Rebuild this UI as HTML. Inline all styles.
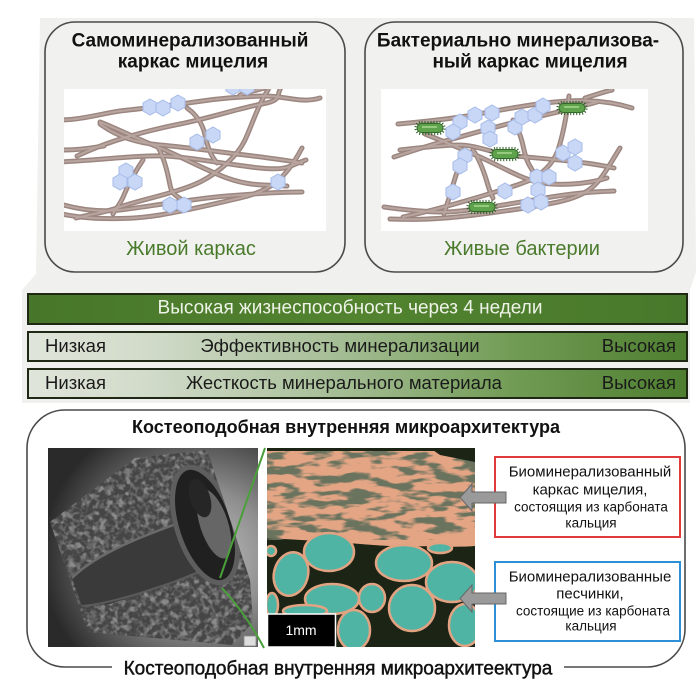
<!DOCTYPE html>
<html><head><meta charset="utf-8">
<style>
html,body{margin:0;padding:0;}
body{width:700px;height:700px;position:relative;background:#fff;overflow:hidden;font-family:"Liberation Sans",sans-serif;color:#111;}
.c{position:absolute;white-space:nowrap;transform:translate(-50%,-50%);line-height:1;}
.l{position:absolute;white-space:nowrap;transform:translateY(-50%);line-height:1;}
.r{position:absolute;white-space:nowrap;transform:translate(-100%,-50%);line-height:1;}
.tt{font-weight:bold;font-size:19px;color:#111;}
.gr{font-size:20px;color:#4a7b2c;}
.bt{font-size:18.5px;color:#1a1a1a;}
</style></head><body>
<svg width="700" height="700" viewBox="0 0 700 700" style="position:absolute;left:0;top:0" xmlns="http://www.w3.org/2000/svg">
<defs>
  <linearGradient id="g1" x1="0" y1="0" x2="1" y2="0">
    <stop offset="0" stop-color="#47762a"/><stop offset="0.5" stop-color="#52832f"/><stop offset="1" stop-color="#48782b"/>
  </linearGradient>
  <linearGradient id="g2" x1="0" y1="0" x2="1" y2="0">
    <stop offset="0" stop-color="#dfe5da"/><stop offset="0.18" stop-color="#d2dbca"/><stop offset="0.45" stop-color="#a9c09a"/><stop offset="0.75" stop-color="#6f9a52"/><stop offset="1" stop-color="#4e7e30"/>
  </linearGradient>
  <radialGradient id="ctbg" cx="0.72" cy="0.55" r="0.75">
    <stop offset="0" stop-color="#c4c4c4"/><stop offset="0.45" stop-color="#8e8e8e"/><stop offset="1" stop-color="#2a2a2a"/>
  </radialGradient>
  <clipPath id="cube"><polygon points="135,458 207,450 250,580 253,622 232,645 88,632 50,522"/></clipPath>
  <clipPath id="micro"><rect x="267" y="448" width="208" height="199"/></clipPath>
  <clipPath id="il1"><rect x="64" y="89" width="262" height="142"/></clipPath>
  <clipPath id="il2"><rect x="381" y="89" width="267" height="142"/></clipPath>
  <filter id="grain" filterUnits="userSpaceOnUse" x="48" y="448" width="210" height="200">
    <feTurbulence type="fractalNoise" baseFrequency="0.16" numOctaves="2" seed="7"/>
    <feColorMatrix type="matrix" values="0 0 0 0 0.40  0 0 0 0 0.40  0 0 0 0 0.40  4 0 0 0 -1.9"/>
  </filter>
  <filter id="grain2" filterUnits="userSpaceOnUse" x="48" y="448" width="210" height="200">
    <feTurbulence type="fractalNoise" baseFrequency="0.2" numOctaves="2" seed="19"/>
    <feColorMatrix type="matrix" values="0 0 0 0 0.18  0 0 0 0 0.18  0 0 0 0 0.18  4 0 0 0 -1.9"/>
  </filter>
  <filter id="mott" filterUnits="userSpaceOnUse" x="267" y="448" width="208" height="92">
    <feTurbulence type="fractalNoise" baseFrequency="0.035 0.12" numOctaves="3" seed="4"/>
    <feColorMatrix type="matrix" values="0 0 0 0 0.14  0 0 0 0 0.17  0 0 0 0 0.11  7 0 0 0 -3.3"/>
  </filter>
  <polygon id="hx" points="0,-8 7,-4 7,4 0,8 -7,4 -7,-4" fill="#c8d7f5" stroke="#a6bbea" stroke-width="1"/>
  <g id="bac">
    <rect x="-14.5" y="-6" width="29" height="12" rx="6" fill="none" stroke="#2b5a22" stroke-width="2.2" stroke-dasharray="1 2"/>
    <rect x="-13" y="-4.5" width="26" height="9" rx="4.5" fill="#5ea34c" stroke="#2f6a28" stroke-width="1"/>
    <path d="M-8,-1 L7,-1" stroke="#a8d890" stroke-width="1.5"/>
  </g>
  <g id="s1" fill="none" stroke-linecap="round">
    <path d="M60,120 C80,120 100,114 120,111 C145,108 170,106 195,102 S240,97 262,96 S300,104 320,98"/>
    <path d="M77,156 C110,140 150,130 180,124 S240,108 262,104 S275,95 282,86"/>
    <path d="M100,124 C115,135 135,143 160,145 S220,152 245,155 S285,160 302,163"/>
    <path d="M60,162 C100,160 140,155 165,156 S230,165 260,168 S290,165 306,160"/>
    <path d="M268,90 C258,105 252,125 245,140 S220,172 200,182 S140,200 120,207 S95,213 76,218"/>
    <path d="M60,204 C80,210 100,212 120,210 S190,199 227,196 S280,192 302,192"/>
    <path d="M62,214 C90,220 130,220 160,215 S210,205 240,198 S285,180 302,148"/>
    <path d="M187,108 C197,115 203,125 205,135 S210,155 217,163"/>
    <path d="M158,147 C165,160 168,175 170,185 S176,195 182,200"/>
    <path d="M143,160 C135,172 128,185 124,195 S116,208 113,214"/>
    <path d="M100,122 C120,130 140,140 160,148 S205,170 227,178 S265,185 287,186"/>
    <path d="M62,150 C80,150 90,148 104,146"/>
    <path d="M240,95 C250,92 262,88 275,86"/>
  </g>
  <g id="s2" fill="none" stroke-linecap="round">
    <path d="M398,124 C420,122 440,120 460,117 S520,106 545,103 S600,98 632,108"/>
    <path d="M394,157 C415,150 430,145 445,141 S495,127 515,122 S570,110 597,102"/>
    <path d="M400,150 C420,148 440,145 458,145 S490,152 508,155 S580,160 614,168"/>
    <path d="M425,134 C440,140 460,148 480,157 S520,178 537,182 S585,185 607,178"/>
    <path d="M569,96 C566,120 563,135 558,150 S540,175 530,180 S470,200 440,208 S415,214 403,217"/>
    <path d="M384,207 C405,210 425,212 445,212 S515,203 545,198 S590,192 614,191"/>
    <path d="M390,219 C415,220 430,219 445,218 S520,210 558,202 S600,180 620,148"/>
    <path d="M513,120 C518,128 522,140 524,150 S530,168 536,175"/>
    <path d="M463,156 C457,170 453,185 450,195 S446,207 444,214"/>
    <path d="M473,150 C480,160 484,172 487,182 S490,192 493,198"/>
    <path d="M585,98 C595,95 603,92 612,90"/>
  </g>
</defs>

<!-- light gray panel -->
<polygon points="40,18 694,18 696,272 690,290 690,403 22,403 22,290 36,274" fill="#f0f0ee"/>

<!-- top boxes -->
<rect x="45" y="22" width="300" height="250" rx="30" fill="#f1f1ef" stroke="#4a4a4a" stroke-width="1.6"/>
<rect x="365" y="22" width="318" height="250" rx="30" fill="#f1f1ef" stroke="#4a4a4a" stroke-width="1.6"/>
<rect x="64" y="89" width="262" height="142" fill="#ffffff"/>
<rect x="381" y="89" width="267" height="142" fill="#ffffff"/>

<!-- illustration 1 -->
<g clip-path="url(#il1)">
<use href="#s1" stroke="#9c8680" stroke-width="5"/>
<use href="#s1" stroke="#b9a59f" stroke-width="2"/>
<use href="#hx" x="150" y="107"/><use href="#hx" x="163" y="108"/><use href="#hx" x="178" y="103"/>
<use href="#hx" x="197" y="142"/><use href="#hx" x="213" y="135"/>
<use href="#hx" x="126" y="171"/><use href="#hx" x="120" y="182"/><use href="#hx" x="135" y="182"/>
<use href="#hx" x="278" y="182"/>
<use href="#hx" x="170" y="205"/><use href="#hx" x="184" y="205"/>
<use href="#hx" x="233" y="87"/><use href="#hx" x="247" y="87"/>
</g>

<!-- illustration 2 -->
<g clip-path="url(#il2)">
<use href="#s2" stroke="#9c8680" stroke-width="5"/>
<use href="#s2" stroke="#b9a59f" stroke-width="2"/>
<use href="#hx" x="460" y="122"/><use href="#hx" x="453" y="132"/><use href="#hx" x="475" y="115"/>
<use href="#hx" x="492" y="113"/><use href="#hx" x="488" y="128"/><use href="#hx" x="490" y="139"/>
<use href="#hx" x="515" y="127"/><use href="#hx" x="522" y="117"/><use href="#hx" x="535" y="115"/>
<use href="#hx" x="543" y="106"/><use href="#hx" x="465" y="156"/><use href="#hx" x="460" y="166"/>
<use href="#hx" x="563" y="153"/><use href="#hx" x="575" y="147"/><use href="#hx" x="575" y="163"/>
<use href="#hx" x="537" y="177"/><use href="#hx" x="549" y="177"/><use href="#hx" x="538" y="190"/>
<use href="#hx" x="453" y="192"/><use href="#hx" x="505" y="191"/><use href="#hx" x="528" y="205"/>
<use href="#hx" x="541" y="202"/>
<use href="#bac" x="430" y="128"/><use href="#bac" x="572" y="108"/>
<use href="#bac" x="505" y="154"/><use href="#bac" x="482" y="207"/>
</g>

<!-- bars -->
<rect x="28" y="294" width="659" height="30" fill="url(#g1)" stroke="#1e2814" stroke-width="2"/>
<rect x="28" y="332" width="659" height="29" fill="url(#g2)" stroke="#1e2814" stroke-width="2"/>
<rect x="28" y="369" width="659" height="29" fill="url(#g2)" stroke="#1e2814" stroke-width="2"/>

<!-- bottom box -->
<path d="M112,667 L65,667 A38,38 0 0 1 27,629 L27,448 A38,38 0 0 1 65,410 L647,410 A38,38 0 0 1 685,448 L685,629 A38,38 0 0 1 647,667 L564,667" fill="none" stroke="#4a4a4a" stroke-width="1.6"/>

<!-- CT image -->
<rect x="48" y="448" width="210" height="199" fill="url(#ctbg)"/>
<polygon points="135,458 207,450 250,580 253,622 232,645 88,632 50,522" fill="#454545"/>
<g clip-path="url(#cube)">
  <rect x="48" y="448" width="210" height="200" filter="url(#grain)" opacity="0.7"/>
  <rect x="48" y="448" width="210" height="200" filter="url(#grain2)" opacity="0.7"/>
  <path d="M72,578 C90,560 120,545 160,530 L200,515 L210,565 C185,578 150,590 110,604 L82,606 Z" fill="#3a3a3a"/>
  <path d="M72,578 C90,560 120,545 160,530 L200,515" fill="none" stroke="#6a6a6a" stroke-width="2.5"/>
  <path d="M82,606 C110,604 150,590 185,578 L212,566" fill="none" stroke="#5a5a5a" stroke-width="2"/>
  <ellipse cx="205" cy="525" rx="28" ry="60" transform="rotate(-18 205 525)" fill="#202020" stroke="#5e5e5e" stroke-width="5"/>
  <ellipse cx="214" cy="524" rx="14" ry="36" transform="rotate(-18 214 524)" fill="#666"/>
  <ellipse cx="200" cy="498" rx="10" ry="20" transform="rotate(-18 200 498)" fill="#262626"/>
</g>
<rect x="244" y="636" width="12" height="10" fill="#ddd" stroke="#888" stroke-width="0.8"/>

<!-- microscopy -->
<g clip-path="url(#micro)">
  <rect x="267" y="448" width="208" height="199" fill="#1c2416"/>
  <path d="M267,448 L475,448 L475,546 C450,548 430,545 410,547 C380,546 350,543 320,541 C300,540 285,539 267,538 Z" fill="#e4a585"/>
  <rect x="267" y="448" width="208" height="82" filter="url(#mott)"/>
  <polygon points="430,448 475,448 475,462 455,458 440,455" fill="#1c2416"/>
  <rect x="267" y="448" width="208" height="3" fill="#1c2416"/>
  <g fill="#50b4a4" stroke="#e2a382" stroke-width="2.5">
    <ellipse cx="329" cy="552" rx="25" ry="19"/>
    <ellipse cx="291" cy="574" rx="17" ry="22" transform="rotate(15 291 574)"/>
    <ellipse cx="404" cy="563" rx="28" ry="18"/>
    <ellipse cx="452" cy="582" rx="26" ry="20"/>
    <ellipse cx="332" cy="599" rx="27" ry="15"/>
    <ellipse cx="372" cy="598" rx="13" ry="14"/>
    <ellipse cx="412" cy="608" rx="23" ry="23"/>
    <ellipse cx="354" cy="630" rx="16" ry="20"/>
    <ellipse cx="465" cy="625" rx="16" ry="21"/>
    <ellipse cx="305" cy="611" rx="22" ry="6"/>
    <ellipse cx="271" cy="551" rx="5" ry="5"/>
    <ellipse cx="272" cy="605" rx="6" ry="12"/>
    <ellipse cx="440" cy="548" rx="12" ry="5"/>
  </g>
</g>
<rect x="267.5" y="614" width="68" height="33" fill="#000" stroke="#fff" stroke-width="1.5"/>

<!-- green connectors -->
<path d="M265,448 L220,578" stroke="#4aa03a" stroke-width="2" fill="none"/>
<path d="M222,588 Q246,614 264,648" stroke="#4aa03a" stroke-width="2" fill="none"/>

<!-- info boxes -->
<rect x="495" y="457" width="185" height="80" fill="#fff" stroke="#e03a3a" stroke-width="2"/>
<rect x="495" y="562" width="185" height="79" fill="#fff" stroke="#2d8fd5" stroke-width="2"/>

<!-- arrows -->
<polygon points="506,492 472,492 472,484 460,497.5 472,511 472,503 506,503" fill="#9a9a9a" stroke="#666" stroke-width="1"/>
<polygon points="506,593 472,593 472,585 460,598.5 472,612 472,604 506,604" fill="#9a9a9a" stroke="#666" stroke-width="1"/>
</svg>

<!-- texts -->
<div class="c tt" style="left:190px;top:41px;">Самоминерализованный</div>
<div class="c tt" style="left:193px;top:62px;">каркас мицелия</div>
<div class="c tt" style="left:518px;top:41px;">Бактериально минерализова-</div>
<div class="c tt" style="left:530px;top:62px;">ный каркас мицелия</div>
<div class="c gr" style="left:191px;top:249px;">Живой каркас</div>
<div class="c gr" style="left:522px;top:249px;">Живые бактерии</div>

<div class="c bt" style="left:350px;top:308px;color:#eef3e8;font-size:19px;">Высокая жизнеспособность через 4 недели</div>
<div class="l bt" style="left:45px;top:346px;">Низкая</div>
<div class="c bt" style="left:340px;top:346px;">Эффективность минерализации</div>
<div class="r bt" style="left:676px;top:346px;">Высокая</div>
<div class="l bt" style="left:45px;top:383px;">Низкая</div>
<div class="c bt" style="left:344px;top:383px;">Жесткость минерального материала</div>
<div class="r bt" style="left:676px;top:383px;">Высокая</div>

<div class="c" style="left:346px;top:427px;font-weight:bold;font-size:18px;">Костеоподобная внутренняя микроархитектура</div>
<div class="c" style="left:338px;top:669px;font-size:19px;-webkit-text-stroke:0.45px #111;">Костеоподобная внутренняя микроархитеектура</div>

<div class="c" style="left:301px;top:630px;font-size:14px;color:#fff;">1mm</div>

<div class="c" style="left:590px;top:472px;font-size:15px;">Биоминерализованный</div>
<div class="c" style="left:590px;top:490px;font-size:15px;">каркас мицелия,</div>
<div class="c" style="left:591px;top:507px;font-size:13.5px;">состоящия из карбоната</div>
<div class="c" style="left:591px;top:523px;font-size:13.5px;">кальция</div>

<div class="c" style="left:590px;top:577px;font-size:15px;">Биоминерализованные</div>
<div class="c" style="left:590px;top:594px;font-size:15px;">песчинки,</div>
<div class="c" style="left:593px;top:611px;font-size:13.5px;">состоящие из карбоната</div>
<div class="c" style="left:591px;top:626px;font-size:13.5px;">кальция</div>
</body></html>
